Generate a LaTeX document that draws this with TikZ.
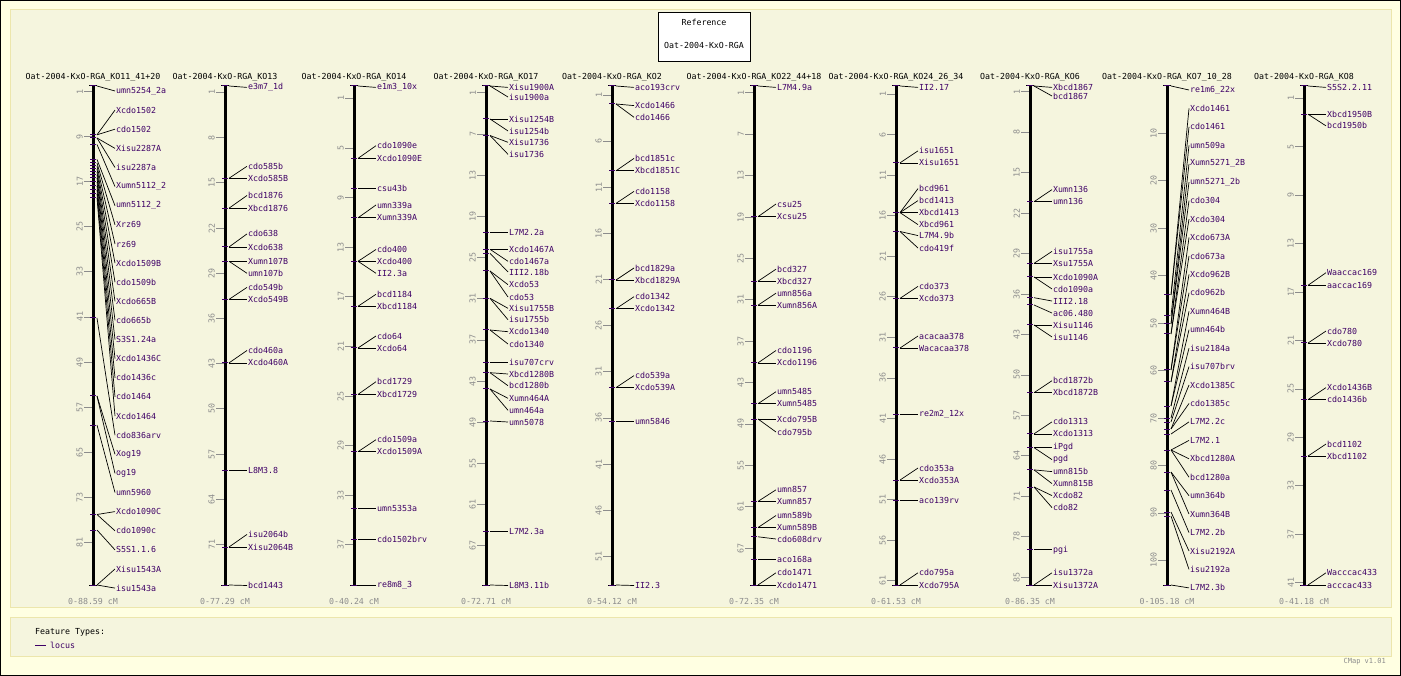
\documentclass[tikz,border=0pt]{standalone}
\usepackage{fontspec}
\newfontfamily\cmapfont{DejaVu Sans Mono}
\definecolor{pagefill}{RGB}{255,255,226}
\definecolor{panelfill}{RGB}{245,245,222}
\definecolor{panelline}{RGB}{236,230,172}
\definecolor{locuscol}{RGB}{62,0,102}
\definecolor{tickgray}{RGB}{140,140,140}
\tikzset{
    panel/.style={draw=panelline, fill=panelfill, line width=1pt}, % grey-yellow panels
    map title/.style={inner sep=0pt, font=\cmapfont\fontsize{8.3}{8.3}\selectfont},
    scale label/.style={inner sep=0pt, text=tickgray, font=\cmapfont\fontsize{8.3}{8.3}\selectfont},
    tick label/.style={rotate=90, anchor=south, inner sep=0pt, text=tickgray, font=\cmapfont\fontsize{8.3}{8.3}\selectfont},
    tick line/.style={draw=tickgray, line width=0.8pt},
    map bar/.style={draw=black, line width=3pt},
    bar cap/.style={draw=black, line width=1pt},
    feature tick/.style={draw=locuscol, line width=1pt},
    connector/.style={draw=black, line width=0.7pt},
    locus label/.style={anchor=west, inner sep=1pt, text=locuscol, font=\cmapfont\fontsize{8.3}{8.3}\selectfont}
}
% one linkage map: id, bar x, length (cM), ticks, title, range, loci (bar y/label y/name)
\newcommand{\mapcol}[7]{%
    \node[map title] (#1title) at (#2,77) {#5};
    \foreach \v in {#4} {
        \draw[tick line] ({#2-9},{86+\v/#3*499}) -- ({#2-1},{86+\v/#3*499});
        \node[tick label] (#1t\v) at ({#2-10},{86+\v/#3*499}) {\v};
    }
    \draw[map bar] (#2,86) -- (#2,585);
    \draw[bar cap] ({#2-4},86) -- ({#2+4},86) ({#2-4},585) -- ({#2+4},585);
    \foreach \my/\ly/\txt [count=\i] in {#7} {
        \draw[feature tick] ({#2-3},\my) -- ({#2+3},\my);
        \coordinate (#1m\i) at ({#2+4},\my);
        \node[locus label] (#1l\i) at ({#2+22},\ly) {\txt};
        \draw[connector] (#1m\i) -- (#1l\i.west);
    }
    \node[scale label] (#1scale) at (#2,601) {#6};
}

\begin{document}
\begin{tikzpicture}[x=1pt, y=-1pt]
    \useasboundingbox (0,0) rectangle (1401,676);
    \fill[pagefill] (0,0) rectangle (1401,676);
    \draw[panel] (10,10) rectangle (1391,607);
    \draw[panel] (10,617) rectangle (1391,656);
    \draw[black, line width=1pt] (0.5,0.5) rectangle (1400.5,675.5);

    % reference box
    \node[draw=black, fill=white, line width=1pt, minimum width=92pt, minimum height=49pt, inner sep=0pt] (refbox) at (704,37.5) {};
    \node[map title] (refhead) at (704,22) {Reference};
    \node[map title] (refname) at (704,45) {Oat-2004-KxO-RGA};

    \mapcol{a}{93}{88.59}{1,9,...,81}{Oat-2004-KxO-RGA\_KO11\_41+20}{0-88.59 cM}{
        86/91.0/umn5254\_2a, 134.8/110.1/Xcdo1502, 134.8/129.2/cdo1502,
        138/148.4/Xisu2287A, 138/167.5/isu2287a, 144.5/186.6/Xumn5112\_2,
        159.5/205.7/umn5112\_2, 163/224.8/Xrz69, 166/244.0/rz69,
        169/263.1/Xcdo1509B, 172/282.2/cdo1509b, 175/301.3/Xcdo665B,
        178/320.4/cdo665b, 182/339.6/S3S1.24a, 186/358.7/Xcdo1436C,
        190/377.8/cdo1436c, 194/396.9/cdo1464, 198/416.0/Xcdo1464,
        318/435.2/cdo836arv, 396/454.3/Xog19, 396/473.4/og19,
        425/492.5/umn5960, 514.5/511.6/Xcdo1090C, 514.5/530.8/cdo1090c,
        530/549.9/S5S1.1.6, 585/569.0/Xisu1543A, 585/588.1/isu1543a}

    \mapcol{b}{225}{77.29}{1,8,...,71}{Oat-2004-KxO-RGA\_KO13}{0-77.29 cM}{
        86/87.4/e3m7\_1d, 178.3/166.3/cdo585b, 178.3/178.3/Xcdo585B,
        208.2/195.5/bcd1876, 208.2/208.2/Xbcd1876, 247/233.9/cdo638,
        247/247/Xcdo638, 261.3/261.3/Xumn107B, 261.3/273.3/umn107b,
        299.4/287.4/cdo549b, 299.4/299.4/Xcdo549B, 362.9/350.5/cdo460a,
        362.9/362.9/Xcdo460A, 470/470/L8M3.8, 547/534.4/isu2064b,
        547/547/Xisu2064B, 585/585.5/bcd1443}

    \mapcol{c}{354}{40.24}{1,5,...,37}{Oat-2004-KxO-RGA\_KO14}{0-40.24 cM}{
        86/87.4/e1m3\_10x, 158.4/145.7/cdo1090e, 158.4/158.4/Xcdo1090E,
        188.6/188.6/csu43b, 217.8/205/umn339a, 217.8/217.8/Xumn339A,
        261.3/249.5/cdo400, 261.3/261.3/Xcdo400, 261.3/273.3/II2.3a,
        306.3/294.3/bcd1184, 306.3/306.3/Xbcd1184, 348/336/cdo64,
        348/348/Xcdo64, 394.4/381.7/bcd1729, 394.4/394.4/Xbcd1729,
        451.7/439.7/cdo1509a, 451.7/451.7/Xcdo1509A, 508.3/508.3/umn5353a,
        539.5/539.5/cdo1502brv, 585/585/re8m8\_3}

    \mapcol{d}{486}{72.71}{1,7,...,67}{Oat-2004-KxO-RGA\_KO17}{0-72.71 cM}{
        86/87.4/Xisu1900A, 86/97/isu1900a, 119/119/Xisu1254B,
        119/131/isu1254b, 135.5/142.3/Xisu1736, 135.5/154.3/isu1736,
        232.7/232.7/L7M2.2a, 249.3/249.3/Xcdo1467A, 249.3/261.3/cdo1467a,
        253.3/272/III2.18b, 271/284.7/Xcdo53, 271/297/cdo53,
        298.3/308.3/Xisu1755B, 298.3/319.7/isu1755b, 330/331.7/Xcdo1340,
        330/344/cdo1340, 362.7/362.7/isu707crv, 372.7/374/Xbcd1280B,
        372.7/385.7/bcd1280b, 389/398.3/Xumn464A, 389/410.3/umn464a,
        421/422/umn5078, 531.6/531.6/L7M2.3a, 585/585.5/L8M3.11b}

    \mapcol{e}{612}{54.12}{1,6,...,51}{Oat-2004-KxO-RGA\_KO2}{0-54.12 cM}{
        86/87.4/aco193crv, 104/105.6/Xcdo1466, 104/117.3/cdo1466,
        170.8/158.4/bcd1851c, 170.8/170.8/Xbcd1851C, 203.4/191.4/cdo1158,
        203.4/203.4/Xcdo1158, 280/268/bcd1829a, 280/280/Xbcd1829A,
        308.7/296.7/cdo1342, 308.7/308.7/Xcdo1342, 387.6/375.6/cdo539a,
        387.6/387.6/Xcdo539A, 421/421/umn5846, 585/585.5/II2.3}

    \mapcol{f}{754}{72.35}{1,7,...,67}{Oat-2004-KxO-RGA\_KO22\_44+18}{0-72.35 cM}{
        86/87.4/L7M4.9a, 216.7/204/csu25, 216.7/216.7/Xcsu25,
        281.2/269.2/bcd327, 281.2/281.2/Xbcd327, 305.2/293.2/umn856a,
        305.2/305.2/Xumn856A, 362.9/350.5/cdo1196, 362.9/362.9/Xcdo1196,
        403.7/391.7/umn5485, 403.7/403.7/Xumn5485, 419/419/Xcdo795B,
        419/432/cdo795b, 501.4/489.8/umn857, 501.4/501.4/Xumn857,
        527.5/515.5/umn589b, 527.5/527.5/Xumn589B, 536.8/539/cdo608drv,
        559.7/559.7/aco168a, 585/572.8/cdo1471, 585/585/Xcdo1471}

    \mapcol{g}{896}{61.53}{1,6,...,61}{Oat-2004-KxO-RGA\_KO24\_26\_34}{0-61.53 cM}{
        86/87.4/II2.17, 162.9/150.9/isu1651, 162.9/162.9/Xisu1651,
        212.6/188.6/bcd961, 212.6/200.6/bcd1413, 212.6/212.6/Xbcd1413,
        212.6/224.6/Xbcd961, 231.5/235.6/L7M4.9b, 231.5/248/cdo419f,
        298.4/286.4/cdo373, 298.4/298.4/Xcdo373, 348/336/acacaa378,
        348/348/Wacacaa378, 414/414/re2m2\_12x, 480/468/cdo353a,
        480/480/Xcdo353A, 500/500/aco139rv, 585/572.8/cdo795a,
        585/585/Xcdo795A}

    \mapcol{h}{1030}{86.35}{1,8,...,85}{Oat-2004-KxO-RGA\_KO6}{0-86.35 cM}{
        86/87.4/Xbcd1867, 86/96/bcd1867, 201.7/189.6/Xumn136,
        201.7/201.7/umn136, 263.4/251.4/isu1755a, 263.4/263.4/Xsu1755A,
        277/277/Xcdo1090A, 277/289/cdo1090a, 297.7/301/III2.18,
        305/313/ac06.480, 325/325/Xisu1146, 325/337/isu1146,
        392.7/380.7/bcd1872b, 392.7/392.7/Xbcd1872B, 433.9/421.9/cdo1313,
        433.9/433.9/Xcdo1313, 447.6/447.6/iPgd, 447.6/459.6/pgd,
        469.9/471.6/umn815b, 469.9/483.6/Xumn815B, 487/495.6/Xcdo82,
        487/507.6/cdo82, 549.8/549.8/pgi, 585/572.8/isu1372a,
        585/585/Xisu1372A}

    \mapcol{i}{1167}{105.18}{10,20,...,100}{Oat-2004-KxO-RGA\_KO7\_10\_28}{0-105.18 cM}{
        86/90.0/re1m6\_22x, 295/108.4/Xcdo1461, 295/126.9/cdo1461,
        316/145.3/umn509a, 324/163.8/Xumn5271\_2B, 324/182.2/umn5271\_2b,
        334/200.6/cdo304, 334/219.1/Xcdo304, 370/237.5/Xcdo673A,
        370/256.0/cdo673a, 382/274.4/Xcdo962B, 382/292.8/cdo962b,
        406/311.3/Xumn464B, 406/329.7/umn464b, 418/348.2/isu2184a,
        422/366.6/isu707brv, 429/385.0/Xcdo1385C, 429/403.5/cdo1385c,
        434/421.9/L7M2.2c, 450/440.4/L7M2.1, 450/458.8/Xbcd1280A,
        450/477.2/bcd1280a, 472/495.7/umn364b, 472/514.1/Xumn364B,
        490/532.6/L7M2.2b, 512/551.0/Xisu2192A, 516/569.4/isu2192a,
        585/587.9/L7M2.3b}

    \mapcol{j}{1304}{41.18}{1,5,...,41}{Oat-2004-KxO-RGA\_KO8}{0-41.18 cM}{
        86/87.4/S5S2.2.11, 114.2/114.2/Xbcd1950B, 114.2/125.9/bcd1950b,
        285.3/272.7/Waaccac169, 285.3/285.3/aaccac169, 343/331/cdo780,
        343/343/Xcdo780, 399.6/387.6/Xcdo1436B, 399.6/399.6/cdo1436b,
        456/444/bcd1102, 456/456/Xbcd1102, 585/572.8/Wacccac433,
        585/585/acccac433}

    % legend
    \node[map title, anchor=west] (legendhead) at (35,632) {Feature Types:};
    \node[locus label] (legendlocus) at (49,645) {locus};
    \draw[feature tick] ([xshift=-14pt]legendlocus.west) -- ([xshift=-3pt]legendlocus.west);
    \node[scale label, anchor=east, font=\cmapfont\fontsize{7}{7}\selectfont] (version) at (1386,662) {CMap v1.01};
\end{tikzpicture}
\end{document}
